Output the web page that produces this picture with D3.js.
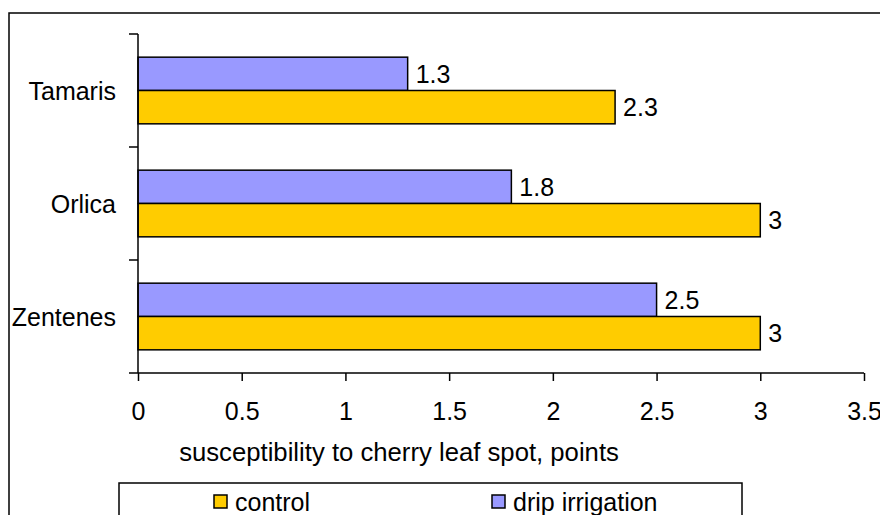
<!DOCTYPE html>
<html>
<head>
<meta charset="utf-8">
<script src="https://cdn.jsdelivr.net/npm/d3@7"></script>
<style>
  html, body { margin: 0; padding: 0; background: #fff; }
  svg { display: block; font-family: "Liberation Sans", Arial, sans-serif; }
</style>
</head>
<body>
<svg id="chart" width="880" height="515"></svg>
<script>
const categories = ["Tamaris", "Orlica", "Zentenes"];
const seriesNames = ["control", "drip irrigation"];
const controlValues = [2.3, 3, 3];
const dripValues = [1.3, 1.8, 2.5];
const xTicks = [0, 0.5, 1, 1.5, 2, 2.5, 3, 3.5];
const xTitle = "susceptibility to cherry leaf spot, points";

const colors = { "control": "#FFCC00", "drip irrigation": "#9999FF" };
const svg = d3.select("#chart");
const FS = 25;

// outer frame
svg.append("rect").attr("x", 9).attr("y", 13).attr("width", 900).attr("height", 560)
  .attr("fill", "#fff").attr("stroke", "#000").attr("stroke-width", 1.5);

const x = d3.scaleLinear().domain([0, 3.5]).range([138, 864]);
const y = d3.scaleBand().domain(categories).range([34, 373]).paddingInner(0.41).paddingOuter(0.205);
const sub = d3.scaleBand().domain(["drip irrigation", "control"]).range([0, y.bandwidth()]);

const data = categories.map((c, i) => ({
  cat: c,
  vals: [
    { s: "drip irrigation", v: dripValues[i] },
    { s: "control", v: controlValues[i] }
  ]
}));

// bars
const g = svg.append("g");
const groups = g.selectAll("g.cat").data(data).join("g")
  .attr("transform", d => `translate(0,${y(d.cat)})`);
groups.selectAll("rect").data(d => d.vals).join("rect")
  .attr("x", x(0))
  .attr("y", d => sub(d.s))
  .attr("width", d => x(d.v) - x(0))
  .attr("height", sub.bandwidth())
  .attr("fill", d => colors[d.s])
  .attr("stroke", "#000").attr("stroke-width", 1.5);
groups.selectAll("text").data(d => d.vals).join("text")
  .attr("x", d => x(d.v) + 8)
  .attr("y", d => sub(d.s) + sub.bandwidth() / 2)
  .attr("dy", "0.36em")
  .attr("font-size", FS)
  .text(d => d.v);

// y axis
const yAxisG = svg.append("g");
yAxisG.append("line").attr("x1", 138).attr("x2", 138).attr("y1", 34).attr("y2", 373)
  .attr("stroke", "#000").attr("stroke-width", 1.5);
const yTickPos = categories.map(c => y(c) - y.step() * 0.205).concat([373]);
yAxisG.selectAll("line.t").data(yTickPos).join("line").attr("class", "t")
  .attr("x1", 129).attr("x2", 138).attr("y1", d => d).attr("y2", d => d)
  .attr("stroke", "#000").attr("stroke-width", 1.5);
yAxisG.selectAll("text").data(categories).join("text")
  .attr("x", 116).attr("y", d => y(d) + y.bandwidth() / 2)
  .attr("dy", "0.36em").attr("text-anchor", "end").attr("font-size", FS)
  .text(d => d);

// x axis
const xAxis = d3.axisBottom(x).tickValues(xTicks).tickSize(8).tickPadding(21)
  .tickFormat(d3.format("~g"));
const xg = svg.append("g").attr("transform", "translate(0,373)").call(xAxis);
xg.select(".domain").attr("stroke", "#000").attr("stroke-width", 1.5).attr("d", `M${x(0)},0H${x(3.5)}`);
xg.selectAll(".tick line").attr("stroke", "#000").attr("stroke-width", 1.5);
xg.selectAll(".tick text").attr("font-size", FS).attr("font-family", "Liberation Sans, Arial, sans-serif").attr("fill", "#000");

svg.append("text").attr("x", 399).attr("y", 461).attr("text-anchor", "middle")
  .attr("font-size", 25.7).text(xTitle);

// legend
svg.append("rect").attr("x", 119).attr("y", 483).attr("width", 623).attr("height", 60)
  .attr("fill", "#fff").attr("stroke", "#000").attr("stroke-width", 1.5);
const legendX = [214, 492];
const lg = svg.selectAll("g.leg").data(seriesNames).join("g")
  .attr("transform", (d, i) => `translate(${legendX[i]},495)`);
lg.append("rect").attr("width", 13).attr("height", 13)
  .attr("fill", d => colors[d]).attr("stroke", "#000").attr("stroke-width", 1.5);
lg.append("text").attr("x", 21).attr("y", 16).attr("font-size", FS).text(d => d);
</script>
</body>
</html>
